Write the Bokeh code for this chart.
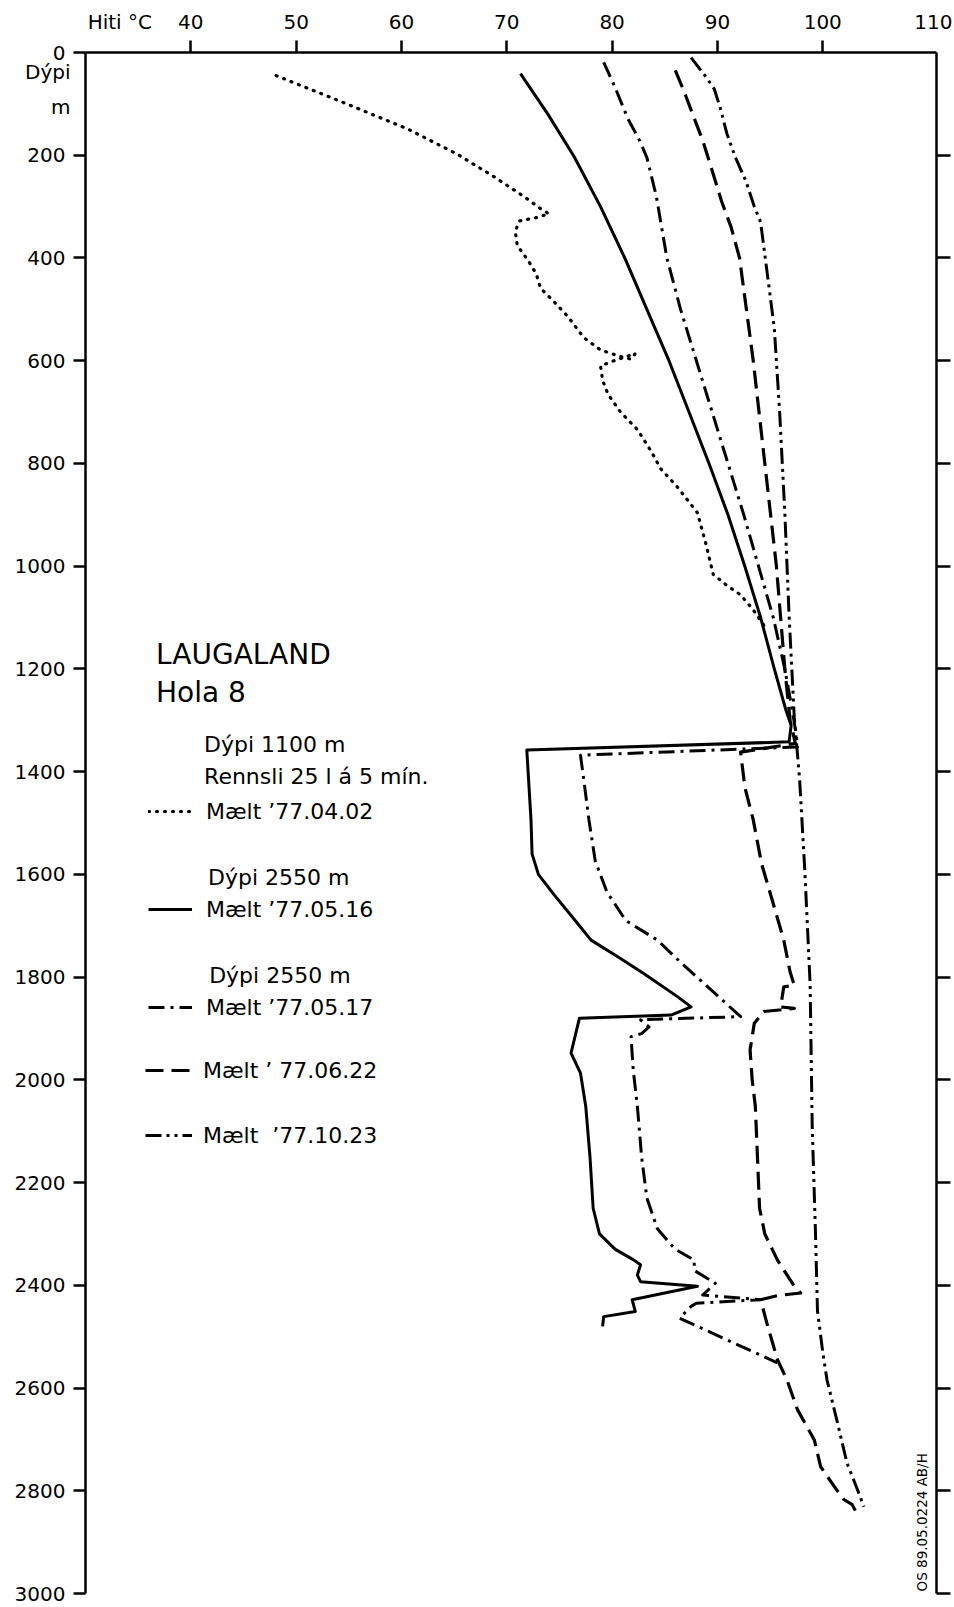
import math
from bokeh.plotting import figure
from bokeh.models import (Range1d, LinearAxis, FixedTicker, Label, Legend, LegendItem,
                          CustomJSTickFormatter)
from bokeh.embed import file_html
from bokeh.resources import INLINE

FONT = "DejaVu Sans"

# ---- axes ----
temp_ticks = [40, 50, 60, 70, 80, 90, 100]
temp_label_ticks = [33.26, 40, 50, 60, 70, 80, 90, 100, 110.8]
temp_label_names = ["Hiti °C", "40", "50", "60", "70", "80", "90", "100", "110"]
depth_ticks = [0, 200, 400, 600, 800, 1000, 1200, 1400, 1600, 1800, 2000, 2200, 2400, 2600, 2800, 3000]
depth_label_ticks = [0, 38, 107] + depth_ticks[1:]
depth_label_names = ["0\u2005", "Dýpi", "m"] + [f"{v}\u2005" for v in depth_ticks[1:]]
right_ticks = depth_ticks[1:]

# ---- series (temperature degC, depth m) ----
t_770402 = [48.1, 54.2, 60.6, 65.3, 68.8, 71.6, 73.2, 74.0, 72.9, 71.2, 70.8, 71.0, 72.0, 72.8, 73.2,
            74.2, 75.8, 77.3, 78.9, 80.5, 81.8, 82.2, 80.2, 78.9, 79.1, 79.6, 80.8, 82.4, 83.7, 84.6,
            86.2, 88.1, 88.9, 89.6, 90.8, 92.2, 93.4, 94.4]
d_770402 = [45, 95, 149, 198, 242, 280, 304, 314, 321, 328, 348, 376, 404, 431, 459,
            479, 514, 555, 579, 590, 597, 586, 600, 610, 638, 665, 700, 734, 776, 810,
            846, 896, 956, 1016, 1036, 1056, 1085, 1115]

t_770516 = [71.3, 73.9, 76.4, 78.9, 81.2, 83.3, 85.4, 87.3, 89.2, 91.0, 92.6, 94.1, 95.4, 96.5, 97.0,
            96.8, 71.9, 72.3, 72.4, 73.0, 74.5, 76.3, 78.0, 80.5, 83.0, 86.2, 87.5, 85.6, 76.9,
            76.1, 77.0, 77.5, 77.9, 78.2, 78.8, 80.3, 82.0, 82.7, 82.4, 82.7, 88.1, 81.9, 82.2,
            79.2, 79.1]
d_770516 = [41, 120, 203, 300, 400, 500, 600, 700, 800, 900, 1000, 1100, 1200, 1280, 1310,
            1342, 1358, 1494, 1560, 1600, 1640, 1685, 1728, 1760, 1793, 1838, 1858, 1874, 1880,
            1948, 1987, 2052, 2150, 2250, 2300, 2330, 2350, 2360, 2380, 2393, 2402, 2428, 2451,
            2461, 2480]

t_770517 = [79.2, 80.2, 81.5, 82.6, 83.3, 84.2, 85.2, 86.5, 88.0, 89.5, 91.0, 92.5, 93.9, 95.3,
            96.4, 97.1, 97.5, 97.6, 77.0, 77.4, 77.8, 78.4, 79.5, 81.3, 84.3, 86.7, 89.4, 92.2,
            82.7, 83.5, 82.8, 81.8, 82.0, 82.4, 82.8, 83.3, 84.3, 86.0, 87.8, 87.8, 89.8, 88.6,
            94.1, 88.0, 87.5, 86.4, 95.7]
d_770517 = [19, 64, 129, 171, 204, 280, 400, 500, 600, 700, 800, 900, 1000, 1100,
            1200, 1280, 1330, 1352, 1368, 1430, 1494, 1574, 1634, 1690, 1728, 1775, 1825, 1877,
            1883, 1897, 1910, 1916, 1980, 2052, 2150, 2230, 2290, 2330, 2351, 2371, 2396, 2419,
            2428, 2435, 2441, 2464, 2551]

t_770622 = [86.0, 86.8, 88.0, 88.6, 89.5, 90.4, 91.3, 92.1, 93.4, 94.5, 95.6, 96.4, 96.9, 97.4,
            92.2, 92.6, 93.4, 94.2, 95.2, 96.3, 96.9, 97.3, 96.3, 96.0, 97.3, 94.4, 93.5, 93.1,
            93.3, 93.6, 93.8, 94.0, 94.5, 95.7, 97.3, 97.9, 95.7, 94.1, 94.7, 95.7, 96.6, 97.6,
            99.2, 99.8, 101.1, 102.0, 102.8, 103.3]
d_770622 = [35, 74, 139, 171, 230, 290, 340, 400, 600, 800, 1000, 1200, 1300, 1345,
            1362, 1430, 1494, 1580, 1650, 1728, 1790, 1816, 1819, 1858, 1861, 1867, 1890, 1942,
            2000, 2052, 2150, 2250, 2300, 2351, 2402, 2415, 2420, 2428, 2474, 2545, 2584, 2642,
            2701, 2753, 2792, 2817, 2827, 2847]

t_771023 = [87.5, 89.0, 89.7, 90.3, 90.9, 91.7, 92.7, 93.5, 94.1, 94.4, 94.9, 95.4, 95.9, 96.4,
            96.8, 97.3, 97.8, 98.3, 98.8, 99.0, 99.3, 99.5, 100.0, 100.4, 101.4, 102.3, 103.3, 103.9]
d_771023 = [10, 50, 71, 110, 158, 204, 250, 300, 330, 378, 457, 537, 697, 896,
            1095, 1295, 1414, 1594, 1813, 2092, 2291, 2450, 2530, 2584, 2668, 2746, 2798, 2831]

p = figure(width=952, height=1605, x_range=Range1d(30, 110.8), y_range=Range1d(3000, 0),
           x_axis_location="above", y_axis_location="left",
           output_backend="svg", toolbar_location=None,
           min_border_left=85, min_border_right=16, min_border_top=52, min_border_bottom=12)
p.grid.visible = False
p.outline_line_color = None
p.background_fill_color = "white"
p.border_fill_color = "white"

def style_axis(ax, tick_out, standoff, line=True, labels=True):
    ax.axis_line_width = 2.5
    ax.axis_line_color = "black" if line else None
    ax.major_tick_line_width = 2.5
    ax.major_tick_line_color = "black"
    ax.major_tick_out = tick_out
    ax.major_tick_in = 0
    ax.minor_tick_out = 0
    ax.minor_tick_in = 0
    ax.major_label_text_font = FONT
    ax.major_label_text_font_size = "20px" if labels else "0px"
    ax.major_label_text_color = "black"
    ax.major_label_standoff = standoff

blank = CustomJSTickFormatter(code="return '';")

# tick-only axes next to the frame
xa = p.xaxis[0]
xa.ticker = FixedTicker(ticks=temp_ticks)
xa.formatter = blank
style_axis(xa, 12, 0, labels=False)

ya = p.yaxis[0]
ya.ticker = FixedTicker(ticks=depth_ticks)
ya.formatter = blank
style_axis(ya, 12, 0, labels=False)

ra = LinearAxis(ticker=FixedTicker(ticks=right_ticks), formatter=blank)
style_axis(ra, 14, 0, labels=False)
p.add_layout(ra, "right")

# label-only axes outside them
xl = LinearAxis(ticker=FixedTicker(ticks=temp_label_ticks),
                major_label_overrides=dict(zip(temp_label_ticks, temp_label_names)))
style_axis(xl, 0, 7, line=False)
xl.major_tick_line_color = None
p.add_layout(xl, "above")

yl = LinearAxis(ticker=FixedTicker(ticks=depth_label_ticks),
                major_label_overrides=dict(zip(depth_label_ticks, depth_label_names)))
style_axis(yl, 0, 3, line=False)
yl.major_tick_line_color = None
p.add_layout(yl, "left")

def draw(t, d, dash, width=3.0, cap="butt"):
    return p.line(t, d, line_color="black", line_width=width, line_dash=dash,
                  line_cap=cap, line_join="round")

r1 = draw(t_770402, d_770402, "1 7", 3.2, "round")
r2 = draw(t_770516, d_770516, "solid", 3.0)
r3 = draw(t_770517, d_770517, "16 6 3 6", 3.0)
r4 = draw(t_770622, d_770622, "18 8", 3.2)
r5 = draw(t_771023, d_771023, "16 5 3 5 3 5", 3.0)

def make_legend(items, loc, spacing, gw, standoff):
    lg = Legend(items=items, location=loc, spacing=spacing, padding=0, margin=0,
                glyph_width=gw, glyph_height=30, label_height=30, label_standoff=standoff,
                label_text_font=FONT, label_text_font_size="22px", label_text_color="black",
                border_line_color=None, background_fill_alpha=0)
    p.add_layout(lg)

make_legend([LegendItem(label="Mælt ’77.04.02", renderers=[r1]),
             LegendItem(label="Mælt ’77.05.16", renderers=[r2]),
             LegendItem(label="Mælt ’77.05.17", renderers=[r3])],
            (63, 571), 68, 44, 14)
make_legend([LegendItem(label="Mælt ’ 77.06.22", renderers=[r4]),
             LegendItem(label="Mælt  ’77.10.23", renderers=[r5])],
            (60, 443), 35, 47, 11)

def lab(text, x, y, size, align="left", angle=0.0):
    p.add_layout(Label(x=x, y=y, text=text, text_font=FONT, text_font_size=size,
                       text_color="black", text_align=align, text_baseline="middle",
                       angle=angle))

lab("LAUGALAND", 36.7, 1171, "28px")
lab("Hola 8", 36.7, 1246, "28px")
lab("Dýpi 1100 m", 41.26, 1348, "22px")
lab("Rennsli 25 l á 5 mín.", 41.26, 1409, "22px")
lab("Dýpi 2550 m", 41.64, 1606, "22px")
lab("Dýpi 2550 m", 41.74, 1796, "22px")
lab("OS 89.05.0224 AB/H", 109.47, 2996, "13.5px", "left", math.pi / 2)

with open("out.html", "w", encoding="utf-8") as f:
    f.write(file_html(p, INLINE))
